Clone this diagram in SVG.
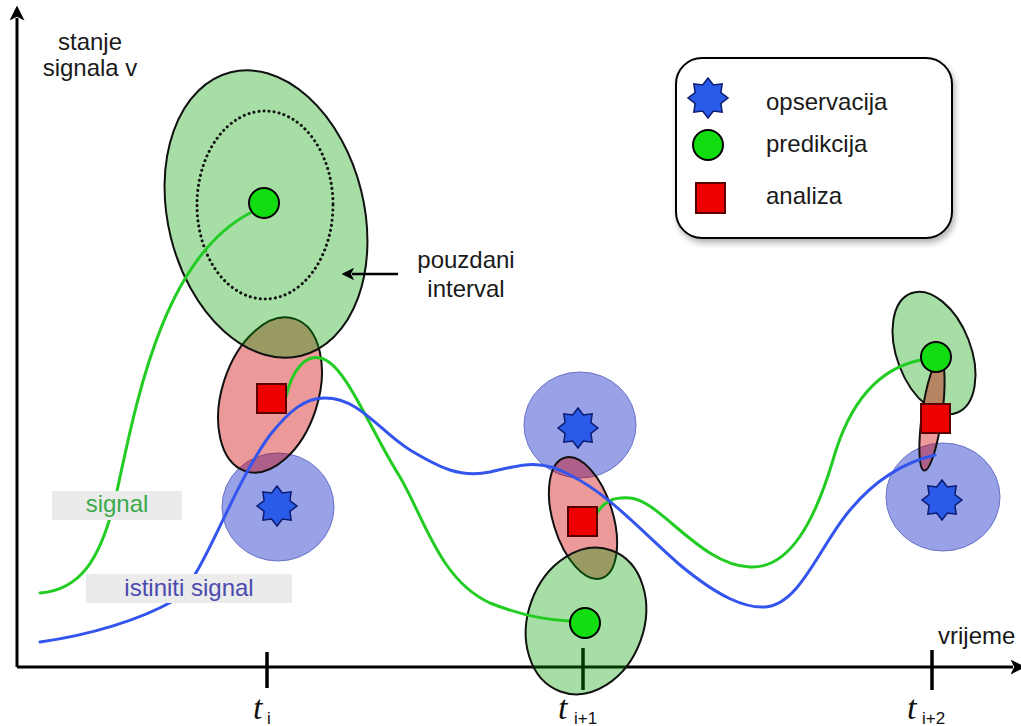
<svg xmlns="http://www.w3.org/2000/svg" width="1021" height="726" viewBox="0 0 1021 726">
<style>
  .lbl { font-family: "Liberation Sans", Arial, sans-serif; font-size: 24px; fill: #1a1a1a; }
  .tvar { font-family: "Liberation Serif", "Times New Roman", serif; font-style: italic; font-size: 34px; fill: #111; }
  .tsub { font-family: "Liberation Sans", Arial, sans-serif; font-size: 17px; fill: #111; }
  .axis { stroke: #000; stroke-width: 3; fill: none; }
  .tick { stroke: #000; stroke-width: 3.5; }
  .ell-g { fill: #00a000; fill-opacity: 0.35; stroke: #111; stroke-width: 2; }
  .ell-r { fill: #cc0000; fill-opacity: 0.4; stroke: #111; stroke-width: 2; }
  .ell-b { fill: #2a3acc; fill-opacity: 0.48; stroke: #6a72c8; stroke-width: 1; }
  .dot { fill: #11dd11; stroke: #000; stroke-width: 2; }
  .sq { fill: #ee0000; stroke: #5a0000; stroke-width: 2; }
  .star { fill: #2a5ae8; stroke: #0c1c70; stroke-width: 1.5; }
  .sig-g { fill: none; stroke: #22cc22; stroke-width: 3; stroke-linecap: round; }
  .sig-b { fill: none; stroke: #3355ee; stroke-width: 3; stroke-linecap: round; }
  .box { fill: #ebebeb; }
</style>
<defs>
  <polygon id="star" points="0,-20 5.36,-12.93 14.14,-14.14 12.93,-5.36 20,0 12.93,5.36 14.14,14.14 5.36,12.93 0,20 -5.36,12.93 -14.14,14.14 -12.93,5.36 -20,0 -12.93,-5.36 -14.14,-14.14 -5.36,-12.93"/>
  <marker id="arr" viewBox="0 0 12 12" refX="2" refY="6" markerWidth="5" markerHeight="5" orient="auto-start-reverse" markerUnits="strokeWidth">
    <path d="M0,0 L12,6 L0,12 L3,6 Z" fill="#000"/>
  </marker>
  <filter id="shadow" x="-10%" y="-10%" width="130%" height="140%">
    <feDropShadow dx="2" dy="4" stdDeviation="3" flood-color="#000" flood-opacity="0.3"/>
  </filter>
</defs>
<rect width="1021" height="726" fill="#fff"/>

<g id="axes">
  <line class="axis" x1="17" y1="667" x2="17" y2="18" marker-end="url(#arr)"/>
  <line class="axis" x1="17" y1="667" x2="1013" y2="667" marker-end="url(#arr)"/>
  <line class="tick" x1="267" y1="652" x2="267" y2="688"/>
  <line class="tick" x1="583" y1="648" x2="583" y2="690"/>
  <line class="tick" x1="932" y1="650" x2="932" y2="690"/>
  <text class="lbl" x="90" y="50" text-anchor="middle">stanje</text>
  <text class="lbl" x="90" y="76" text-anchor="middle">signala v</text>
  <text class="lbl" x="938" y="644">vrijeme</text>
  <text class="tvar" x="253" y="719">t</text><text class="tsub" x="267" y="724">i</text>
  <text class="tvar" x="558" y="719">t</text><text class="tsub" x="574" y="724">i+1</text>
  <text class="tvar" x="907" y="719">t</text><text class="tsub" x="922" y="724">i+2</text>
</g>

<g id="step-i-regions">
  <ellipse class="ell-b" cx="278" cy="507" rx="56" ry="54"/>
  <ellipse class="ell-r" cx="270" cy="395" rx="48" ry="80" transform="rotate(18 270 395)"/>
  <ellipse class="ell-g" cx="266" cy="214" rx="98" ry="146" transform="rotate(-14 266 214)"/>
  <ellipse cx="265" cy="205" rx="68" ry="94" fill="none" stroke="#111" stroke-width="3" stroke-dasharray="0.1 5" stroke-linecap="round"/>
</g>
<g id="step-i1-regions">
  <ellipse class="ell-b" cx="580" cy="425" rx="56" ry="53"/>
  <ellipse class="ell-r" cx="583" cy="518" rx="30" ry="63" transform="rotate(-17 583 518)"/>
  <ellipse class="ell-g" cx="586" cy="621" rx="58" ry="75" transform="rotate(20 586 621)"/>
</g>
<g id="step-i2-regions">
  <ellipse class="ell-g" cx="934" cy="353" rx="37" ry="64" transform="rotate(-21 934 353)"/>
  <ellipse class="ell-b" cx="943" cy="497" rx="57" ry="54"/>
  <ellipse class="ell-r" cx="932" cy="415" rx="10" ry="56" transform="rotate(8 932 415)"/>
</g>

<g id="connectors">
  <path class="sig-g" d="M40,593 C80,590 100,560 115,500 C135,410 160,260 250,213"/>
  <path class="sig-g" d="M286,397 C292,370 305,355 320,358 C345,362 370,430 400,477 C425,520 440,580 490,603 C520,615 545,620 569,621"/>
  <path class="sig-g" d="M597,513 C605,500 615,497 630,498 C660,500 700,565 750,567 C790,569 815,520 833,460 C850,400 880,368 921,360"/>
  <path class="sig-b" d="M40,642 C90,635 140,620 175,600 C205,575 230,490 270,435 C290,410 305,398 325,398 C360,398 380,432 410,450 C440,468 460,478 490,472 C520,465 540,458 570,475 C610,495 640,530 680,565 C720,598 745,608 765,607 C800,605 820,545 850,510 C875,480 905,462 935,455"/>
  <line x1="398" y1="274" x2="352" y2="274" stroke="#000" stroke-width="2.5" marker-end="url(#arr)"/>
</g>

<g id="label-signal">
  <rect class="box" x="52" y="491" width="130" height="29"/>
  <text class="lbl" x="117" y="512" text-anchor="middle" style="fill:#3aaa4a">signal</text>
</g>
<g id="label-istiniti">
  <rect class="box" x="86" y="574" width="206" height="29"/>
  <text class="lbl" x="189" y="596" text-anchor="middle" style="fill:#4a4ab0">istiniti signal</text>
</g>
<g id="label-pouzdani">
  <text class="lbl" x="466" y="268" text-anchor="middle">pouzdani</text>
  <text class="lbl" x="466" y="297" text-anchor="middle">interval</text>
</g>

<g id="node-i">
  <use href="#star" class="star" x="277" y="506"/>
  <rect class="sq" x="257" y="384" width="29" height="29"/>
  <circle class="dot" cx="264" cy="203" r="15"/>
</g>
<g id="node-i1">
  <use href="#star" class="star" x="578" y="428"/>
  <rect class="sq" x="568" y="507" width="29" height="29"/>
  <circle class="dot" cx="585" cy="623" r="15"/>
</g>
<g id="node-i2">
  <use href="#star" class="star" x="942" y="500"/>
  <rect class="sq" x="921" y="404" width="29" height="29"/>
  <circle class="dot" cx="936" cy="357" r="15"/>
</g>

<g id="legend">
  <rect x="676" y="58" width="276" height="180" rx="26" fill="#fff" stroke="#000" stroke-width="2" filter="url(#shadow)"/>
  <use href="#star" class="star" x="708" y="98"/>
  <circle class="dot" cx="708" cy="145" r="15"/>
  <rect class="sq" x="696" y="183" width="29" height="30"/>
  <text class="lbl" x="766" y="110">opservacija</text>
  <text class="lbl" x="766" y="152">predikcija</text>
  <text class="lbl" x="766" y="204">analiza</text>
</g>
</svg>
